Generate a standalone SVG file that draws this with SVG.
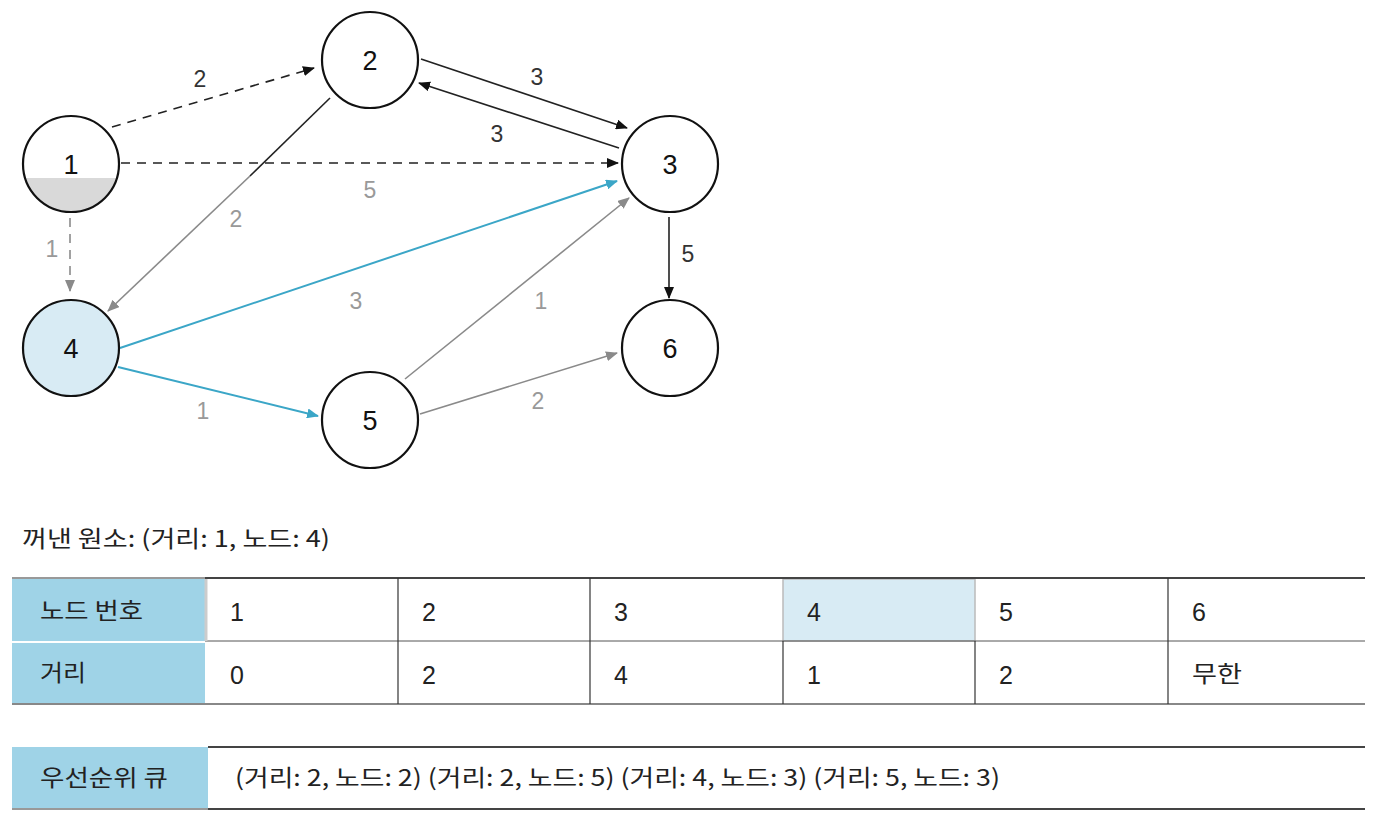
<svg xmlns="http://www.w3.org/2000/svg" width="1388" height="836" viewBox="0 0 1388 836">
<style>
.node{fill:#fff;stroke:#111;stroke-width:2.2}
.nl{font-family:"Liberation Sans","Noto Sans CJK KR",sans-serif;font-size:27px;fill:#111;text-anchor:middle}
.el{font-family:"Liberation Sans","Noto Sans CJK KR",sans-serif;font-size:23px;text-anchor:middle}
.g{fill:#999}.k{fill:#333}
.e{fill:none;stroke-width:1.6}
.ek{stroke:#222}.eg{stroke:#8a8a8a}.eb{stroke:#3ba6c7;stroke-width:2}
.dash{stroke-dasharray:9 7}
.t{font-family:"Noto Sans CJK KR","Liberation Sans",sans-serif;font-size:23px;fill:#222}
.tn{font-family:"Liberation Sans","Noto Sans CJK KR",sans-serif;font-size:25px;fill:#222}
</style>
<defs>
<marker id="ak" markerWidth="12" markerHeight="10" refX="11" refY="5" orient="auto" markerUnits="userSpaceOnUse"><path d="M0,0 L12,5 L0,10 z" fill="#111"/></marker>
<marker id="ag" markerWidth="12" markerHeight="10" refX="11" refY="5" orient="auto" markerUnits="userSpaceOnUse"><path d="M0,0 L12,5 L0,10 z" fill="#8a8a8a"/></marker>
<marker id="ab" markerWidth="12" markerHeight="10" refX="11" refY="5" orient="auto" markerUnits="userSpaceOnUse"><path d="M0,0 L12,5 L0,10 z" fill="#3ba6c7"/></marker>
<clipPath id="half"><rect x="0" y="178" width="200" height="60"/></clipPath>
</defs>
<rect width="1388" height="836" fill="#fff"/>
<g id="edges">
<line class="e ek dash" x1="112" y1="127" x2="314" y2="68" marker-end="url(#ak)"/>
<line class="e ek dash" x1="121" y1="163" x2="618" y2="163" marker-end="url(#ak)"/>
<line class="e eg dash" x1="70" y1="218" x2="70" y2="291" marker-end="url(#ag)"/>
<line class="e eg" x1="250" y1="176" x2="108" y2="311" marker-end="url(#ag)"/>
<line class="e ek" x1="330" y1="98" x2="250" y2="176"/>
<line class="e ek" x1="421" y1="59" x2="627" y2="128" marker-end="url(#ak)"/>
<line class="e ek" x1="619" y1="148" x2="419" y2="83" marker-end="url(#ak)"/>
<line class="e ek" x1="669" y1="217" x2="669" y2="298" marker-end="url(#ak)"/>
<line class="e eb" x1="120" y1="348" x2="617" y2="181" marker-end="url(#ab)"/>
<line class="e eb" x1="118" y1="367" x2="318" y2="416" marker-end="url(#ab)"/>
<line class="e eg" x1="405" y1="379" x2="629" y2="198" marker-end="url(#ag)"/>
<line class="e eg" x1="420" y1="414" x2="617" y2="353" marker-end="url(#ag)"/>
<text class="el k" x="200" y="87">2</text>
<text class="el g" x="370" y="198">5</text>
<text class="el g" x="52" y="257">1</text>
<text class="el g" x="236" y="227">2</text>
<text class="el k" x="537" y="85">3</text>
<text class="el k" x="497" y="142">3</text>
<text class="el k" x="688" y="262">5</text>
<text class="el g" x="356" y="309">3</text>
<text class="el g" x="541" y="309">1</text>
<text class="el g" x="203" y="419">1</text>
<text class="el g" x="538" y="409">2</text>
</g>
<g id="node1"><circle cx="71" cy="164" r="48" fill="#fff"/><circle cx="71" cy="164" r="48" fill="#d9d9d9" clip-path="url(#half)"/><circle cx="71" cy="164" r="48" fill="none" stroke="#111" stroke-width="2.2"/><text class="nl" x="71" y="174">1</text></g>
<g id="node2"><circle class="node" cx="370" cy="60" r="48"/><text class="nl" x="370" y="70">2</text></g>
<g id="node3"><circle class="node" cx="670" cy="164" r="48"/><text class="nl" x="670" y="174">3</text></g>
<g id="node4"><circle class="node" cx="71" cy="348" r="48" style="fill:#d8ebf4"/><text class="nl" x="71" y="358">4</text></g>
<g id="node5"><circle class="node" cx="370" cy="420" r="48"/><text class="nl" x="370" y="430">5</text></g>
<g id="node6"><circle class="node" cx="670" cy="348" r="48"/><text class="nl" x="670" y="358">6</text></g>
<g id="popped">
<text class="t" x="22" y="547" textLength="308" lengthAdjust="spacingAndGlyphs">꺼낸 원소: (거리: 1, 노드: 4)</text>
</g>
<g id="table">
<rect x="12" y="578" width="193" height="63" fill="#9fd3e7"/>
<rect x="12" y="643" width="193" height="61" fill="#9fd3e7"/>
<rect x="783" y="579" width="192" height="62" fill="#d8ebf4" stroke="#bbb" stroke-width="1.5"/>
<line x1="205" y1="578" x2="1365" y2="578" stroke="#444" stroke-width="2"/>
<line x1="12" y1="578" x2="205" y2="578" stroke="#999" stroke-width="2"/>
<line x1="205" y1="641" x2="1365" y2="641" stroke="#555" stroke-width="1"/>
<line x1="12" y1="704" x2="1365" y2="704" stroke="#888" stroke-width="2"/>
<line x1="206" y1="579" x2="206" y2="641" stroke="#ccc" stroke-width="3"/>
<g stroke="#333" stroke-width="1.2">
<line x1="398" y1="578" x2="398" y2="704"/>
<line x1="590" y1="578" x2="590" y2="704"/>
<line x1="783" y1="641" x2="783" y2="704"/>
<line x1="975" y1="641" x2="975" y2="704"/>
<line x1="1168" y1="578" x2="1168" y2="704"/>
</g>
<text class="t" x="40" y="619" textLength="103" lengthAdjust="spacingAndGlyphs">노드 번호</text>
<text class="t" x="40" y="681" textLength="46" lengthAdjust="spacingAndGlyphs">거리</text>
<g class="tn">
<text x="230" y="621">1</text><text x="422" y="621">2</text><text x="614" y="621">3</text><text x="807" y="621">4</text><text x="999" y="621">5</text><text x="1192" y="621">6</text>
<text x="230" y="684">0</text><text x="422" y="684">2</text><text x="614" y="684">4</text><text x="807" y="684">1</text><text x="999" y="684">2</text>
</g>
<text class="t" x="1192" y="682" textLength="50" lengthAdjust="spacingAndGlyphs">무한</text>
</g>
<g id="queue">
<rect x="12" y="747" width="196" height="62" fill="#9fd3e7"/>
<line x1="208" y1="747" x2="1365" y2="747" stroke="#444" stroke-width="2"/>
<line x1="12" y1="809" x2="1365" y2="809" stroke="#444" stroke-width="2"/>
<line x1="12" y1="809" x2="208" y2="809" stroke="#999" stroke-width="2"/>
<text class="t" x="40" y="786" textLength="128" lengthAdjust="spacingAndGlyphs">우선순위 큐</text>
<text class="t" x="235" y="786" textLength="765" lengthAdjust="spacingAndGlyphs">(거리: 2, 노드: 2) (거리: 2, 노드: 5) (거리: 4, 노드: 3) (거리: 5, 노드: 3)</text>
</g>
</svg>
